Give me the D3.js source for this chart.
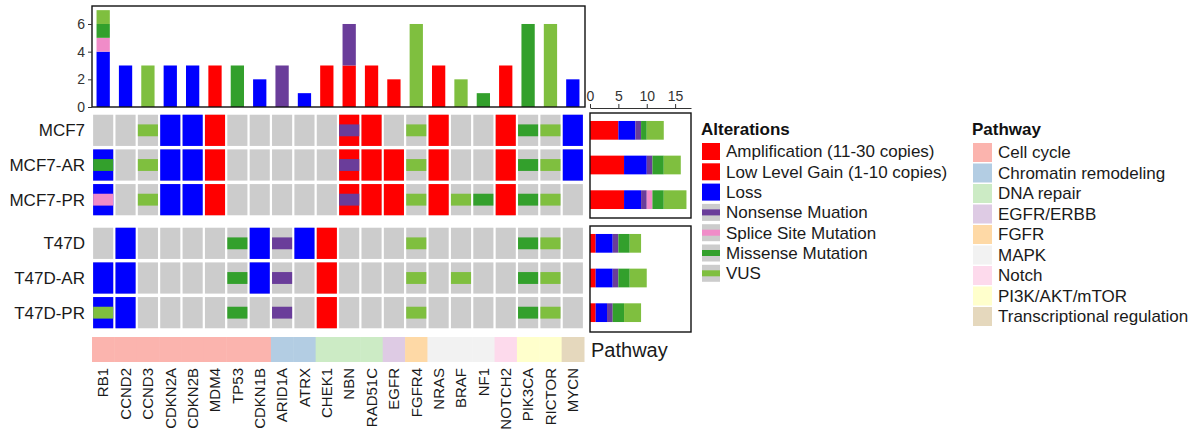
<!DOCTYPE html>
<html><head><meta charset="utf-8">
<script src="https://cdn.jsdelivr.net/npm/d3@7"></script>
<style>body{margin:0;background:#fff;} text{font-family:"Liberation Sans",Arial,sans-serif;}</style>
</head><body><svg id="c" width="1201" height="438"></svg>
<script>
// ---------- data ----------
const genes = ["RB1","CCND2","CCND3","CDKN2A","CDKN2B","MDM4","TP53","CDKN1B","ARID1A","ATRX","CHEK1","NBN","RAD51C","EGFR","FGFR4","NRAS","BRAF","NF1","NOTCH2","PIK3CA","RICTOR","MYCN"];
const genePathway = ["Cell cycle","Cell cycle","Cell cycle","Cell cycle","Cell cycle","Cell cycle","Cell cycle","Cell cycle","Chromatin remodeling","Chromatin remodeling","DNA repair","DNA repair","DNA repair","EGFR/ERBB","FGFR","MAPK","MAPK","MAPK","Notch","PI3K/AKT/mTOR","PI3K/AKT/mTOR","Transcriptional regulation"];
const samplesMCF7 = ["MCF7","MCF7-AR","MCF7-PR"];
const samplesT47D = ["T47D","T47D-AR","T47D-PR"];
const alterationTypes = ["Amplification (11-30 copies)","Low Level Gain (1-10 copies)","Loss","Nonsense Muation","Splice Site Mutation","Missense Mutation","VUS"];
const alterationColors = ["#FF0000","#FF0000","#0000FF","#6A3D9A","#F08CC8","#33A02C","#7FBF3F"];
const pathways = ["Cell cycle","Chromatin remodeling","DNA repair","EGFR/ERBB","FGFR","MAPK","Notch","PI3K/AKT/mTOR","Transcriptional regulation"];
const pathwayColors = ["#FBB4AE","#B3CDE3","#CCEBC5","#DECBE4","#FED9A6","#F2F2F2","#FDDAEC","#FFFFCC","#E5D8BD"];
const topTicks = [0,2,4,6];
const rightTicks = [0,5,10,15];
// copy-number calls: [sample, gene, type]
const cnvCalls = [
 ["MCF7","CDKN2A","Loss"],["MCF7","CDKN2B","Loss"],["MCF7","MDM4","Low Level Gain (1-10 copies)"],["MCF7","NBN","Low Level Gain (1-10 copies)"],["MCF7","RAD51C","Low Level Gain (1-10 copies)"],["MCF7","NRAS","Low Level Gain (1-10 copies)"],["MCF7","NOTCH2","Low Level Gain (1-10 copies)"],["MCF7","MYCN","Loss"],
 ["MCF7-AR","RB1","Loss"],["MCF7-AR","CDKN2A","Loss"],["MCF7-AR","CDKN2B","Loss"],["MCF7-AR","MDM4","Low Level Gain (1-10 copies)"],["MCF7-AR","NBN","Low Level Gain (1-10 copies)"],["MCF7-AR","RAD51C","Low Level Gain (1-10 copies)"],["MCF7-AR","EGFR","Low Level Gain (1-10 copies)"],["MCF7-AR","NRAS","Low Level Gain (1-10 copies)"],["MCF7-AR","NOTCH2","Low Level Gain (1-10 copies)"],["MCF7-AR","MYCN","Loss"],
 ["MCF7-PR","RB1","Loss"],["MCF7-PR","CDKN2A","Loss"],["MCF7-PR","CDKN2B","Loss"],["MCF7-PR","MDM4","Low Level Gain (1-10 copies)"],["MCF7-PR","NBN","Low Level Gain (1-10 copies)"],["MCF7-PR","RAD51C","Low Level Gain (1-10 copies)"],["MCF7-PR","EGFR","Low Level Gain (1-10 copies)"],["MCF7-PR","NRAS","Low Level Gain (1-10 copies)"],["MCF7-PR","NOTCH2","Low Level Gain (1-10 copies)"],
 ["T47D","CCND2","Loss"],["T47D","CDKN1B","Loss"],["T47D","ATRX","Loss"],["T47D","CHEK1","Low Level Gain (1-10 copies)"],
 ["T47D-AR","RB1","Loss"],["T47D-AR","CCND2","Loss"],["T47D-AR","CDKN1B","Loss"],["T47D-AR","CHEK1","Low Level Gain (1-10 copies)"],
 ["T47D-PR","RB1","Loss"],["T47D-PR","CCND2","Loss"],["T47D-PR","CHEK1","Low Level Gain (1-10 copies)"]
];
// mutation calls: [sample, gene, type]
const mutCalls = [
 ["MCF7","CCND3","VUS"],["MCF7","NBN","Nonsense Muation"],["MCF7","FGFR4","VUS"],["MCF7","PIK3CA","Missense Mutation"],["MCF7","RICTOR","VUS"],
 ["MCF7-AR","RB1","Missense Mutation"],["MCF7-AR","CCND3","VUS"],["MCF7-AR","NBN","Nonsense Muation"],["MCF7-AR","FGFR4","VUS"],["MCF7-AR","PIK3CA","Missense Mutation"],["MCF7-AR","RICTOR","VUS"],
 ["MCF7-PR","RB1","Splice Site Mutation"],["MCF7-PR","CCND3","VUS"],["MCF7-PR","NBN","Nonsense Muation"],["MCF7-PR","FGFR4","VUS"],["MCF7-PR","BRAF","VUS"],["MCF7-PR","NF1","Missense Mutation"],["MCF7-PR","PIK3CA","Missense Mutation"],["MCF7-PR","RICTOR","VUS"],
 ["T47D","TP53","Missense Mutation"],["T47D","ARID1A","Nonsense Muation"],["T47D","FGFR4","VUS"],["T47D","PIK3CA","Missense Mutation"],["T47D","RICTOR","VUS"],
 ["T47D-AR","TP53","Missense Mutation"],["T47D-AR","ARID1A","Nonsense Muation"],["T47D-AR","FGFR4","VUS"],["T47D-AR","BRAF","VUS"],["T47D-AR","PIK3CA","Missense Mutation"],["T47D-AR","RICTOR","VUS"],
 ["T47D-PR","RB1","VUS"],["T47D-PR","TP53","Missense Mutation"],["T47D-PR","ARID1A","Nonsense Muation"],["T47D-PR","FGFR4","VUS"],["T47D-PR","PIK3CA","Missense Mutation"],["T47D-PR","RICTOR","VUS"]
];

// ---------- drawing ----------
const svg = d3.select("#c");
const GRAY = "#CCCCCC";
const altColor = d3.scaleOrdinal(alterationTypes, alterationColors);
const pwColor = d3.scaleOrdinal(pathways, pathwayColors);
const allCalls = cnvCalls.concat(mutCalls);
const isMut = t => alterationTypes.indexOf(t) >= 3;

const x = d3.scaleBand(genes, [92, 584]).paddingInner(0.1).paddingOuter(0.05);
const yTop = d3.scaleBand(samplesMCF7, [113, 217]).paddingInner(0.1).paddingOuter(0.05);
const yBot = d3.scaleBand(samplesT47D, [226, 330]).paddingInner(0.1).paddingOuter(0.05);
const yOf = s => samplesMCF7.includes(s) ? yTop : yBot;

// --- top bar plot ---
const yBar = d3.scaleLinear([0, 7.3], [107, 6]);
const geneCounts = genes.map(g => {
  let acc = 0; const segs = [];
  alterationTypes.forEach(t => {
    const n = allCalls.filter(c => c[1] === g && c[2] === t).length;
    if (n) { segs.push({g, t, y0: acc, y1: acc + n}); acc += n; }
  });
  return segs;
}).flat();
const bw = x.bandwidth() * 0.66;
svg.append("g").selectAll("rect").data(geneCounts).join("rect")
  .attr("x", d => x(d.g) + (x.bandwidth() - bw) / 2).attr("width", bw)
  .attr("y", d => yBar(d.y1)).attr("height", d => yBar(d.y0) - yBar(d.y1))
  .attr("fill", d => altColor(d.t));
svg.append("rect").attr("x", 92).attr("y", yBar(7.3)).attr("width", 585 - 92).attr("height", yBar(0) - yBar(7.3))
  .attr("fill", "none").attr("stroke", "#111").attr("stroke-width", 1.4);
const ax1 = svg.append("g").attr("transform", "translate(92,0)")
  .call(d3.axisLeft(yBar).tickValues(topTicks).tickSize(4).tickSizeOuter(0));
ax1.select(".domain").remove();
ax1.selectAll("text").attr("font-size", 14).attr("fill", "#333").attr("font-family", "Liberation Sans, Arial, sans-serif");
ax1.selectAll("line").attr("stroke", "#333");

// --- matrix ---
const cells = [];
samplesMCF7.concat(samplesT47D).forEach(s => genes.forEach(g => cells.push({s, g})));
const mg = svg.append("g");
mg.selectAll("rect.bg").data(cells).join("rect").attr("class", "bg")
  .attr("x", d => x(d.g)).attr("width", x.bandwidth())
  .attr("y", d => yOf(d.s)(d.s)).attr("height", d => yOf(d.s).bandwidth())
  .attr("fill", GRAY);
mg.selectAll("rect.cnv").data(cnvCalls).join("rect").attr("class", "cnv")
  .attr("x", d => x(d[1])).attr("width", x.bandwidth())
  .attr("y", d => yOf(d[0])(d[0])).attr("height", d => yOf(d[0]).bandwidth())
  .attr("fill", d => altColor(d[2]));
mg.selectAll("rect.mut").data(mutCalls).join("rect").attr("class", "mut")
  .attr("x", d => x(d[1])).attr("width", x.bandwidth())
  .attr("y", d => yOf(d[0])(d[0]) + yOf(d[0]).bandwidth() * 0.31).attr("height", d => yOf(d[0]).bandwidth() * 0.38)
  .attr("fill", d => altColor(d[2]));

// row labels
svg.append("g").selectAll("text").data(samplesMCF7.concat(samplesT47D)).join("text")
  .attr("x", 85).attr("y", s => yOf(s)(s) + yOf(s).bandwidth() / 2).attr("dy", "0.35em")
  .attr("text-anchor", "end").attr("font-size", 17).attr("fill", "#1a1a1a").text(s => s);

// --- right bar plot ---
const xR = d3.scaleLinear([0, 17.8], [590, 691]);
const sampleSegs = samplesMCF7.concat(samplesT47D).map(s => {
  let acc = 0; const segs = [];
  alterationTypes.forEach(t => {
    const n = allCalls.filter(c => c[0] === s && c[2] === t).length;
    if (n) { segs.push({s, t, x0: acc, x1: acc + n}); acc += n; }
  });
  return segs;
}).flat();
svg.append("g").selectAll("rect").data(sampleSegs).join("rect")
  .attr("x", d => xR(d.x0)).attr("width", d => xR(d.x1) - xR(d.x0))
  .attr("y", d => yOf(d.s)(d.s) + yOf(d.s).bandwidth() * 0.2).attr("height", d => yOf(d.s).bandwidth() * 0.6)
  .attr("fill", d => altColor(d.t));
[[113, 218], [226, 332]].forEach(([a, b]) => {
  svg.append("rect").attr("x", 590).attr("y", a).attr("width", 691 - 590).attr("height", b - a)
    .attr("fill", "none").attr("stroke", "#111").attr("stroke-width", 1.4);
});
const ax2 = svg.append("g").attr("transform", "translate(0,108)")
  .call(d3.axisTop(xR).tickValues(rightTicks).tickSize(4).tickSizeOuter(0));
ax2.select(".domain").attr("stroke", "#333");
ax2.selectAll("line").attr("stroke", "#333");
ax2.selectAll("text").attr("font-size", 14).attr("fill", "#333").attr("font-family", "Liberation Sans, Arial, sans-serif");

// --- pathway annotation ---
const step = x.step(), pad = step - x.bandwidth();
svg.append("g").selectAll("rect").data(genes).join("rect")
  .attr("x", g => x(g) - pad / 2).attr("width", step + 0.5)
  .attr("y", 337).attr("height", 25)
  .attr("fill", (g, i) => pwColor(genePathway[i]));
svg.append("text").attr("x", 591).attr("y", 350).attr("dy", "0.35em").attr("font-size", 20).attr("fill", "#1a1a1a").text("Pathway");

// gene labels
svg.append("g").selectAll("text").data(genes).join("text")
  .attr("transform", g => `translate(${x(g) + x.bandwidth() / 2},368) rotate(-90)`)
  .attr("dy", "0.35em").attr("text-anchor", "end").attr("font-size", 15).attr("fill", "#1a1a1a").text(g => g);

// --- legends ---
const lg1 = svg.append("g").attr("transform", "translate(702,0)");
lg1.append("text").attr("x", -1).attr("y", 135).attr("font-size", 17).attr("font-weight", "bold").attr("fill", "#111").text("Alterations");
const li = lg1.selectAll("g").data(alterationTypes).join("g").attr("transform", (d, i) => `translate(0,${143 + i * 20.3})`);
li.append("rect").attr("width", 18).attr("height", 17).attr("fill", (d, i) => i < 3 ? altColor(d) : GRAY);
li.filter((d, i) => i >= 3).append("rect").attr("y", 5.5).attr("width", 18).attr("height", 6).attr("fill", d => altColor(d));
li.append("text").attr("x", 24).attr("y", 8.5).attr("dy", "0.35em").attr("font-size", 17).attr("fill", "#1a1a1a").text(d => d);

const lg2 = svg.append("g").attr("transform", "translate(973,0)");
lg2.append("text").attr("x", -1).attr("y", 135).attr("font-size", 17).attr("font-weight", "bold").attr("fill", "#111").text("Pathway");
const pi = lg2.selectAll("g").data(pathways).join("g").attr("transform", (d, i) => `translate(0,${143 + i * 20.5})`);
pi.append("rect").attr("width", 19).attr("height", 19).attr("fill", d => pwColor(d));
pi.append("text").attr("x", 25).attr("y", 9.5).attr("dy", "0.35em").attr("font-size", 17).attr("fill", "#1a1a1a").text(d => d);
</script></body></html>
